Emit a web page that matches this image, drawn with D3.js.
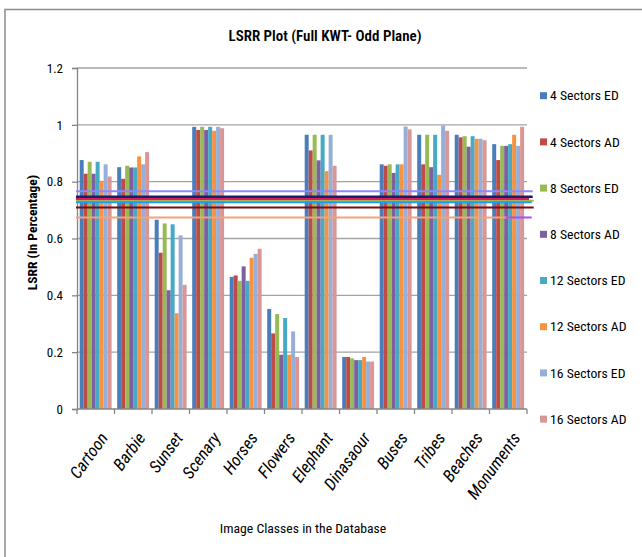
<!DOCTYPE html>
<html>
<head>
<meta charset="utf-8">
<script src="https://cdn.jsdelivr.net/npm/d3@7"></script>
<style>
  html, body { margin: 0; padding: 0; background: #fff; }
  svg { display: block; }
  text { font-family: "Liberation Sans Narrow", "Roboto Condensed", "Liberation Sans", Arial, sans-serif; fill: #000; }
</style>
</head>
<body>
<svg id="chart" width="642" height="557"></svg>
<script>
// Image classes on the x axis
const categories = ["Cartoon", "Barbie", "Sunset", "Scenary", "Horses", "Flowers",
  "Elephant", "Dinasaour", "Buses", "Tribes", "Beaches", "Monuments"];

// Series names (sector count + distance measure)
const seriesNames = ["4 Sectors ED", "4 Sectors AD", "8 Sectors ED", "8 Sectors AD",
  "12 Sectors ED", "12 Sectors AD", "16 Sectors ED", "16 Sectors AD"];

// LSRR per class, one array per series
const s4ED  = [0.876, 0.851, 0.666, 0.993, 0.465, 0.352, 0.965, 0.183, 0.861, 0.965, 0.965, 0.932];
const s4AD  = [0.828, 0.810, 0.550, 0.982, 0.470, 0.266, 0.910, 0.183, 0.856, 0.861, 0.956, 0.876];
const s8ED  = [0.870, 0.856, 0.653, 0.993, 0.451, 0.334, 0.965, 0.178, 0.861, 0.965, 0.960, 0.926];
const s8AD  = [0.828, 0.850, 0.418, 0.982, 0.502, 0.191, 0.875, 0.172, 0.831, 0.851, 0.923, 0.926];
const s12ED = [0.870, 0.850, 0.650, 0.993, 0.451, 0.320, 0.965, 0.172, 0.861, 0.965, 0.960, 0.932];
const s12AD = [0.803, 0.889, 0.337, 0.979, 0.532, 0.191, 0.837, 0.183, 0.861, 0.824, 0.951, 0.965];
const s16ED = [0.861, 0.861, 0.611, 0.993, 0.546, 0.273, 0.965, 0.167, 0.994, 0.998, 0.951, 0.926];
const s16AD = [0.818, 0.904, 0.437, 0.988, 0.564, 0.183, 0.856, 0.167, 0.984, 0.979, 0.946, 0.993];
const seriesValues = [s4ED, s4AD, s8ED, s8AD, s12ED, s12AD, s16ED, s16AD];

// Y axis ticks
const yTicks = [0, 0.2, 0.4, 0.6, 0.8, 1, 1.2];
const yTickLabels = ["0", "0.2", "0.4", "0.6", "0.8", "1", "1.2"];

// Horizontal reference levels across the plot
const refLevels = [0.766, 0.747, 0.739, 0.733, 0.728, 0.709, 0.674];

const seriesColors = ["#4A7EBB", "#BE4B48", "#98B954", "#7D60A0",
  "#46AAC5", "#F69240", "#97AFD8", "#D99694"];
const refColors = ["#8a8aff", "#1e1e5e", "#e0186c", "#98B954", "#1f9cf2", "#7a0c0c", "#f5a27c"];

const svg = d3.select("#chart");

// Chart frame
svg.append("rect")
  .attr("x", 5).attr("y", 9.5).attr("width", 700).attr("height", 700)
  .attr("fill", "none").attr("stroke", "#8c8c8c").attr("stroke-width", 1.5);

const plot = { left: 77, right: 527, top: 68, bottom: 409 };

const x0 = d3.scaleBand().domain(categories).range([plot.left, plot.right]).padding(0);
const x1 = d3.scaleBand().domain(seriesNames)
  .range([2.7, x0.bandwidth() - 2.9]).padding(0);
const y = d3.scaleLinear().domain([0, 1.2]).range([plot.bottom, plot.top]);

// Gridlines
svg.append("g")
  .selectAll("line")
  .data(yTicks.filter(d => d > 0))
  .join("line")
  .attr("x1", plot.left).attr("x2", plot.right)
  .attr("y1", d => y(d)).attr("y2", d => y(d))
  .attr("stroke", "#a3a3a3").attr("stroke-width", 1.4);

// Y axis
const yAxis = d3.axisLeft(y).tickValues(yTicks)
  .tickFormat((d, i) => yTickLabels[i]).tickSize(5).tickPadding(9);
const gy = svg.append("g").attr("transform", `translate(${plot.left},0)`).call(yAxis);
gy.select(".domain").attr("stroke", "#868686").attr("stroke-width", 1.3);
gy.selectAll(".tick line").attr("stroke", "#868686").attr("stroke-width", 1.3);
gy.selectAll(".tick text")
  .style("font-family", '"Liberation Sans Narrow", "Roboto Condensed", "Liberation Sans", Arial, sans-serif')
  .attr("font-size", 13).attr("fill", "#000");

// Bars
const groups = svg.append("g")
  .selectAll("g")
  .data(categories)
  .join("g")
  .attr("transform", d => `translate(${x0(d)},0)`);

groups.selectAll("rect")
  .data((c, ci) => seriesNames.map((s, si) => ({ s, v: seriesValues[si][ci], si })))
  .join("rect")
  .attr("x", d => x1(d.s))
  .attr("width", x1.bandwidth())
  .attr("y", d => y(d.v))
  .attr("height", d => y(0) - y(d.v))
  .attr("fill", d => seriesColors[d.si]);

// X axis
const gx = svg.append("g").attr("transform", `translate(0,${plot.bottom})`);
gx.append("line")
  .attr("x1", plot.left).attr("x2", plot.right)
  .attr("stroke", "#868686").attr("stroke-width", 1.3);
gx.selectAll("line.tick")
  .data(d3.range(categories.length + 1))
  .join("line")
  .attr("class", "tick")
  .attr("x1", i => plot.left + i * x0.bandwidth())
  .attr("x2", i => plot.left + i * x0.bandwidth())
  .attr("y1", 0).attr("y2", 5)
  .attr("stroke", "#868686").attr("stroke-width", 1.3);

gx.selectAll("text")
  .data(categories)
  .join("text")
  .attr("transform", d => `translate(${x0(d) + x0.bandwidth() / 2 + 13},29) rotate(-54)`)
  .attr("text-anchor", "end")
  .attr("font-size", 17)
  .attr("font-style", "italic")
  .text(d => d);

// Reference levels
const lineStart = plot.left - 1;
const lineEnd = [532.7, 532.7, 529, 533.7, 531.7, 533.7, 511];
const refG = svg.append("g");
refG.append("line")
  .attr("x1", lineStart).attr("x2", 533.7)
  .attr("y1", y(refLevels[3])).attr("y2", y(refLevels[3]))
  .attr("stroke", refColors[3]).attr("stroke-width", 2);
refG.selectAll("line.lvl")
  .data(refLevels.map((v, i) => ({ v, i })).filter(d => d.i !== 3))
  .join("line")
  .attr("class", "lvl")
  .attr("x1", lineStart).attr("x2", d => lineEnd[d.i])
  .attr("y1", d => y(d.v)).attr("y2", d => y(d.v))
  .attr("stroke", d => refColors[d.i]).attr("stroke-width", d => d.i === 1 ? 2.5 : 2);
// purple tail on the lowest level
refG.append("line")
  .attr("x1", x0("Monuments") + x0.bandwidth() * 0.43).attr("x2", 531.7)
  .attr("y1", y(refLevels[6])).attr("y2", y(refLevels[6]))
  .attr("stroke", "#a54dff").attr("stroke-width", 2);

// Legend
const legend = svg.append("g")
  .selectAll("g")
  .data(seriesNames)
  .join("g")
  .attr("transform", (d, i) => `translate(540,${95.7 + i * 46.2})`);
legend.append("rect")
  .attr("x", 0).attr("y", -3.5).attr("width", 7).attr("height", 7)
  .attr("fill", (d, i) => seriesColors[i]);
legend.append("text")
  .attr("x", 10).attr("y", 0).attr("dy", "0.35em")
  .attr("font-size", 13.7)
  .text(d => d);

// Titles
svg.append("text")
  .attr("x", 325).attr("y", 41)
  .attr("text-anchor", "middle")
  .attr("font-size", 15)
  .attr("font-weight", 600)
  .text("LSRR Plot (Full KWT- Odd Plane)");

svg.append("text")
  .attr("transform", "translate(37,232.5) rotate(-90)")
  .attr("text-anchor", "middle")
  .attr("font-size", 13.5)
  .attr("font-weight", "bold")
  .text("LSRR (In Percentage)");

svg.append("text")
  .attr("x", 303).attr("y", 533)
  .attr("text-anchor", "middle")
  .attr("font-size", 13.7)
  .text("Image Classes  in the Database");
</script>
</body>
</html>
